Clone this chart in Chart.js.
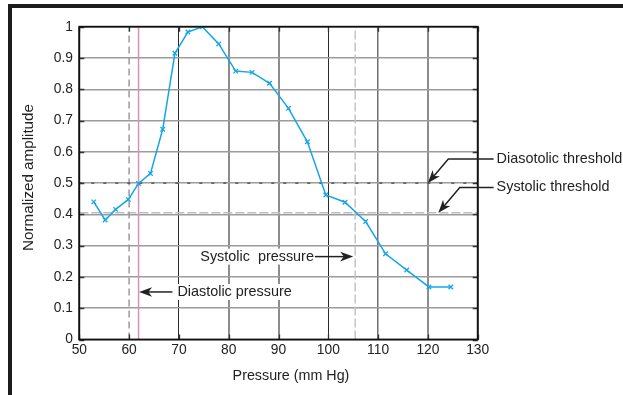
<!DOCTYPE html>
<html><head><meta charset="utf-8">
<script src="https://cdn.jsdelivr.net/npm/chart.js@4.4.1/dist/chart.umd.min.js"></script>
<style>
html,body{margin:0;padding:0;background:#fff;}
#wrap{position:relative;width:623px;height:395px;overflow:hidden;background:#fff;}
#frame{position:absolute;left:8px;top:4px;right:-20px;bottom:-20px;border-top:4.5px solid #1c1c1c;border-left:4px solid #1c1c1c;pointer-events:none;}
canvas{position:absolute;left:0;top:0;}
</style></head><body>
<div id="wrap"><canvas id="c" width="623" height="395"></canvas><div id="frame"></div></div>
<script>
// ---- data ----
const pressure  = [52.9, 55.2, 57.3, 59.85, 61.9, 64.3, 66.75, 69.2, 71.8, 74.7, 78.0, 81.4, 84.7, 88.2, 92.0, 95.8, 99.5, 103.35, 107.5, 111.5, 115.75, 120.2, 124.6];
const amplitude = [0.44, 0.382, 0.416, 0.448, 0.499, 0.531, 0.672, 0.915, 0.983, 1.0, 0.945, 0.858, 0.854, 0.819, 0.739, 0.632, 0.462, 0.439, 0.377, 0.274, 0.222, 0.168, 0.168];
const xTickValues = [50, 60, 70, 80, 90, 100, 110, 120, 130];
const xTickLabels = ['50', '60', '70', '80', '90', '100', '110', '120', '130'];
const yTickValues = [0, 0.1, 0.2, 0.3, 0.4, 0.5, 0.6, 0.7, 0.8, 0.9, 1];
const yTickLabels = ['0', '0.1', '0.2', '0.3', '0.4', '0.5', '0.6', '0.7', '0.8', '0.9', '1'];
const dashedMarkerPressure = 60;
const diastolicPressure = 61.9;
const systolicPressure = 105.4;
const diastolicThreshold = 0.5;
const systolicThreshold = 0.405;
const xTitle = 'Pressure (mm Hg)';
const yTitle = 'Normalized amplitude';
const annoText = ['Systolic  pressure', 'Diastolic pressure', 'Diasotolic threshold', 'Systolic threshold'];

const FONT = '"Liberation Sans", Arial, Helvetica, sans-serif';
const points = pressure.map((p, i) => ({x: p, y: amplitude[i]}));
const vline = (v) => [{x: v, y: 0}, {x: v, y: 1}];
const hline = (v) => [{x: 50, y: v}, {x: 130, y: v}];

function gridColorX(v) {
  if (v === 60) return 'rgba(0,0,0,0)';
  if (v === 70 || v === 100) return '#2a2a2a';
  if (v === 110) return '#707070';
  return '#8c8c8c';
}
function gridWidthX(v) {
  if (v === 70 || v === 100) return 1;
  if (v === 110) return 1.5;
  return 2;
}

function arrowHead(ctx, x0, y0, x1, y1, len, half) {
  const ang = Math.atan2(y1 - y0, x1 - x0);
  const c = Math.cos(ang), s = Math.sin(ang);
  const bx = x1 - c * len, by = y1 - s * len;
  const nx = x1 - c * len * 0.72, ny = y1 - s * len * 0.72;
  ctx.beginPath();
  ctx.moveTo(x1, y1);
  ctx.lineTo(bx - s * half, by + c * half);
  ctx.lineTo(nx, ny);
  ctx.lineTo(bx + s * half, by - c * half);
  ctx.closePath();
  ctx.fill();
}

const overlay = {
  id: 'overlay',
  afterDraw(chart) {
    const {ctx, chartArea: a, scales: {x, y}} = chart;
    ctx.save();
    // inward tick marks on all four sides
    ctx.strokeStyle = '#333'; ctx.lineWidth = 1.3;
    yTickValues.forEach(v => {
      const py = Math.round(y.getPixelForValue(v)) + 0.5;
      ctx.beginPath(); ctx.moveTo(a.left, py); ctx.lineTo(a.left + 5, py);
      ctx.moveTo(a.right - 5, py); ctx.lineTo(a.right, py); ctx.stroke();
    });
    xTickValues.forEach(v => {
      const px = Math.round(x.getPixelForValue(v)) + 0.5;
      ctx.beginPath(); ctx.moveTo(px, a.bottom); ctx.lineTo(px, a.bottom - 5);
      ctx.moveTo(px, a.top); ctx.lineTo(px, a.top + 5); ctx.stroke();
    });
    // plot box
    ctx.strokeStyle = '#111'; ctx.lineWidth = 1.8;
    ctx.strokeRect(a.left, a.top, a.right - a.left, a.bottom - a.top);

    ctx.font = '14.4px ' + FONT;
    ctx.textBaseline = 'middle';
    ctx.textAlign = 'left';
    ctx.fillStyle = '#222'; ctx.strokeStyle = '#222'; ctx.lineWidth = 1.5;

    // Systolic pressure label + arrow
    let tx = x.getPixelForValue(74.3), ty = y.getPixelForValue(0.265);
    let w = ctx.measureText(annoText[0]).width;
    ctx.fillStyle = '#fff'; ctx.fillRect(tx - 1, ty - 8, w + 2, 16);
    ctx.fillStyle = '#222'; ctx.fillText(annoText[0], tx, ty);
    let tip = x.getPixelForValue(systolicPressure) - 2;
    ctx.beginPath(); ctx.moveTo(tx + w + 1, ty); ctx.lineTo(tip - 8, ty); ctx.stroke();
    arrowHead(ctx, tx + w, ty, tip, ty, 13, 4.8);

    // Diastolic pressure label + arrow
    tx = x.getPixelForValue(69.7); ty = y.getPixelForValue(0.152);
    w = ctx.measureText(annoText[1]).width;
    ctx.fillStyle = '#fff'; ctx.fillRect(tx - 1, ty - 8, w + 2, 16);
    ctx.fillStyle = '#222'; ctx.fillText(annoText[1], tx, ty);
    tip = x.getPixelForValue(diastolicPressure) + 0.5;
    ctx.beginPath(); ctx.moveTo(tx - 5, ty); ctx.lineTo(tip + 8, ty); ctx.stroke();
    arrowHead(ctx, tx - 5, ty, tip, ty, 13, 4.8);

    // threshold callouts
    const callouts = [
      {text: annoText[2], ty: 0.577, elbowX: 124.1, tipX: 120, tipY: diastolicThreshold},
      {text: annoText[3], ty: 0.486, elbowX: 126.4, tipX: 122.1, tipY: systolicThreshold}
    ];
    callouts.forEach(cb => {
      const py = y.getPixelForValue(cb.ty);
      const txp = x.getPixelForValue(133.8);
      const ex = x.getPixelForValue(cb.elbowX);
      const tpx = x.getPixelForValue(cb.tipX), tpy = y.getPixelForValue(cb.tipY);
      ctx.fillStyle = '#222';
      ctx.fillText(cb.text, txp, py);
      ctx.beginPath(); ctx.moveTo(txp - 3, py); ctx.lineTo(ex, py);
      const dx = tpx - ex, dy = tpy - py, L = Math.hypot(dx, dy);
      ctx.lineTo(tpx - dx / L * 8, tpy - dy / L * 8); ctx.stroke();
      arrowHead(ctx, ex, py, tpx, tpy, 13, 4.8);
    });

    // axis titles
    ctx.textAlign = 'center';
    ctx.fillStyle = '#222';
    ctx.font = '14.3px ' + FONT;
    ctx.fillText(xTitle, (a.left + a.right) / 2 + 12.5, 376);
    ctx.translate(29, 177.5);
    ctx.rotate(-Math.PI / 2);
    ctx.font = '15.2px ' + FONT;
    ctx.fillText(yTitle, 0, 0);
    ctx.restore();
  }
};

new Chart(document.getElementById('c'), {
  type: 'scatter',
  data: {
    datasets: [
      {data: points, showLine: true, borderColor: '#14a6e6', backgroundColor: '#14a6e6', borderWidth: 1.5,
       pointStyle: 'crossRot', pointRadius: 3.2, pointBorderWidth: 1.3, pointBorderColor: '#14a6e6', order: 0},
      {data: vline(dashedMarkerPressure), showLine: true, borderColor: '#9a9a9a', borderWidth: 1.5, borderDash: [7, 4], pointRadius: 0, order: 2},
      {data: vline(diastolicPressure), showLine: true, borderColor: '#d592b8', borderWidth: 1.5, pointRadius: 0, order: 2},
      {data: vline(systolicPressure), showLine: true, borderColor: '#c4c4c4', borderWidth: 1.5, borderDash: [9, 3], pointRadius: 0, order: 2},
      {data: hline(diastolicThreshold), showLine: true, borderColor: '#444', borderWidth: 1.2, borderDash: [3, 9], pointRadius: 0, order: 1},
      {data: hline(systolicThreshold), showLine: true, borderColor: '#bdbdbd', borderWidth: 1.5, borderDash: [9, 3], pointRadius: 0, order: 2}
    ]
  },
  options: {
    responsive: false,
    animation: false,
    devicePixelRatio: 1,
    layout: {padding: {top: 26.7, right: 145.3, left: 0, bottom: 0}},
    plugins: {legend: {display: false}, tooltip: {enabled: false}},
    scales: {
      x: {
        type: 'linear', min: 50, max: 130,
        afterFit: s => { s.height = 55.5; },
        afterBuildTicks: s => { s.ticks = xTickValues.map(v => ({value: v})); },
        ticks: {callback: (v) => xTickLabels[xTickValues.indexOf(v)], color: '#222', font: {family: FONT, size: 13.8}, padding: 2.2, maxRotation: 0},
        grid: {drawTicks: false, color: c => gridColorX(c.tick ? c.tick.value : 0), lineWidth: c => gridWidthX(c.tick ? c.tick.value : 0)},
        border: {display: false},
        title: {display: false}
      },
      y: {
        type: 'linear', min: 0, max: 1,
        afterFit: s => { s.width = 79.3; },
        afterBuildTicks: s => { s.ticks = yTickValues.map(v => ({value: v})); },
        ticks: {callback: (v) => yTickLabels[yTickValues.findIndex(t => Math.abs(t - v) < 1e-9)], color: '#222', font: {family: FONT, size: 13.8}, padding: 6.3},
        grid: {drawTicks: false, color: '#9c9c9c', lineWidth: 1.5},
        border: {display: false},
        title: {display: false}
      }
    }
  },
  plugins: [overlay]
});
</script>
</body></html>
